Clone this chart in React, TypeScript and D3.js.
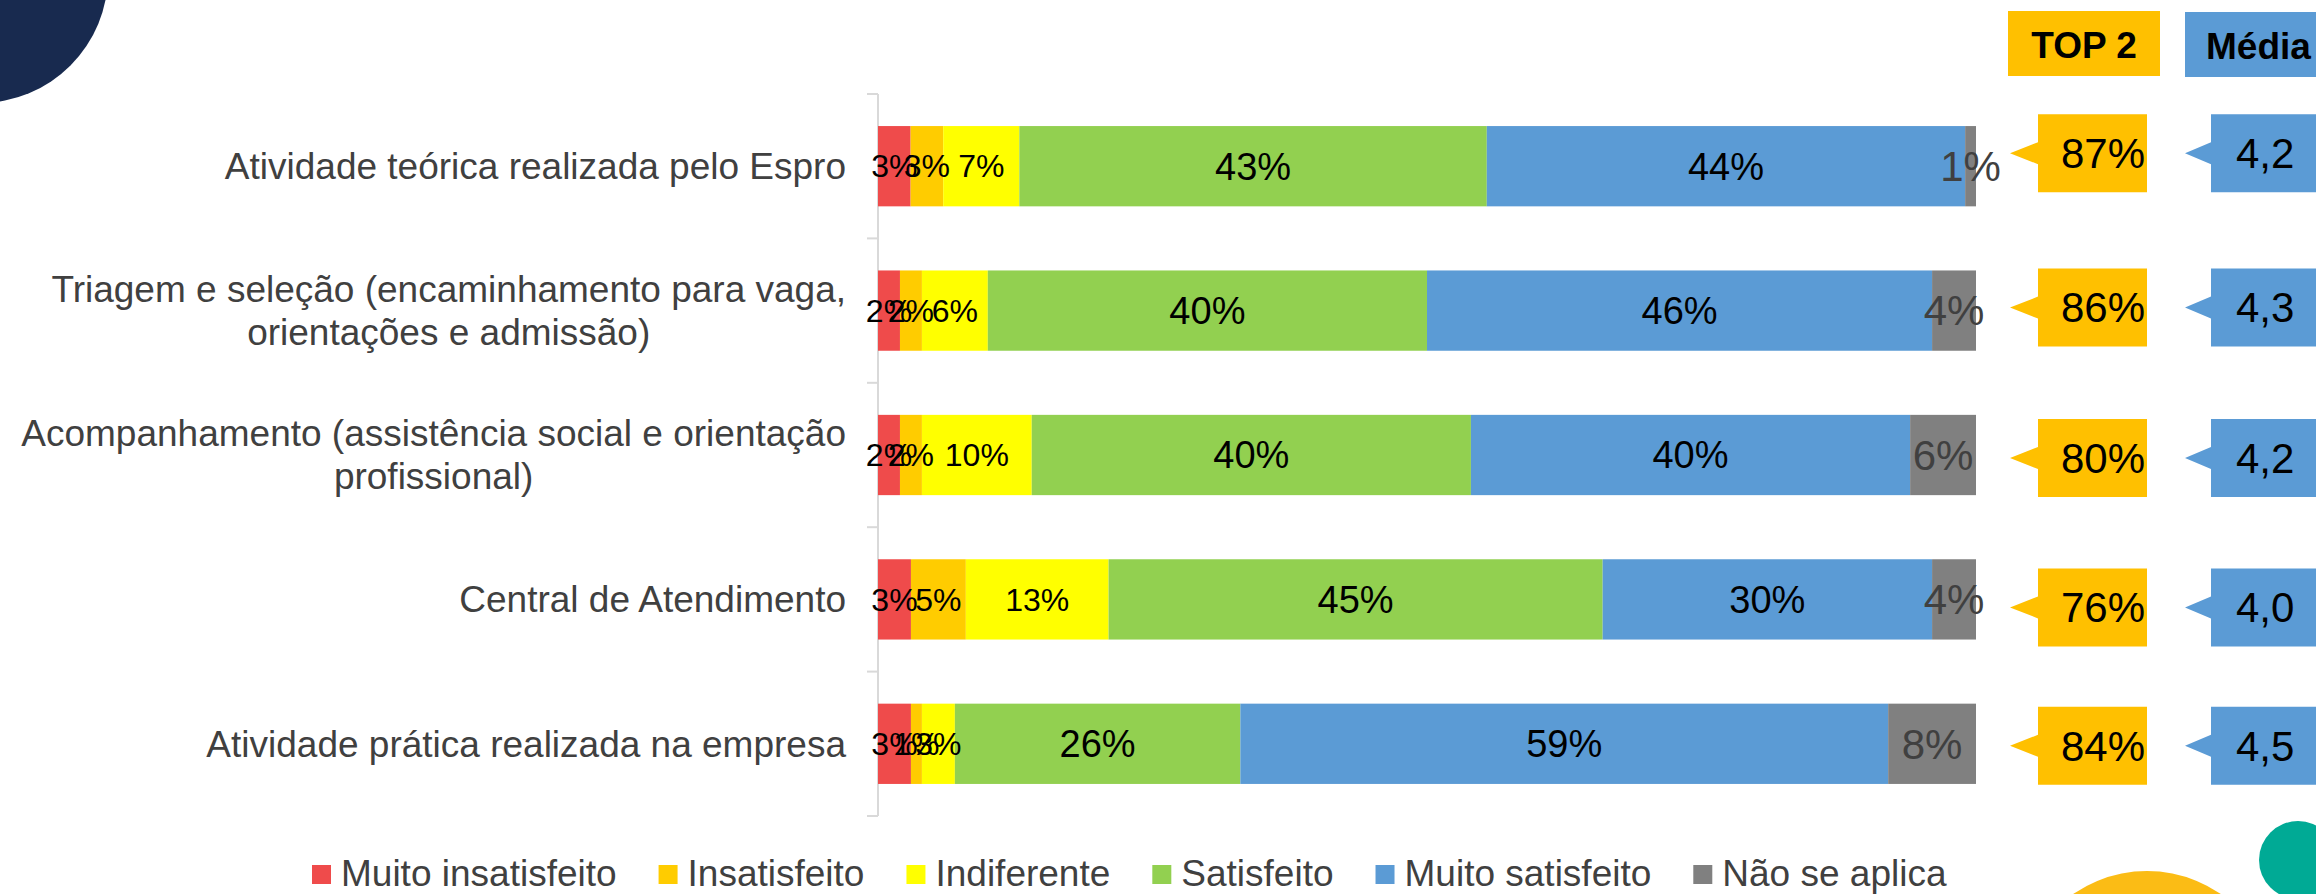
import React, { useEffect, useRef } from 'react';
import * as d3 from 'd3';

// Category labels (one entry per line)
const categories = [
  ['Atividade teórica realizada pelo Espro'],
  ['Triagem e seleção (encaminhamento para vaga,', 'orientações e admissão)'],
  ['Acompanhamento (assistência social e orientação', 'profissional)'],
  ['Central de Atendimento'],
  ['Atividade prática realizada na empresa'],
];

const seriesNames = [
  'Muito insatisfeito',
  'Insatisfeito',
  'Indiferente',
  'Satisfeito',
  'Muito satisfeito',
  'Não se aplica',
];

// Percentages per category
const muitoInsatisfeito = [3, 2, 2, 3, 3];
const insatisfeito = [3, 2, 2, 5, 1];
const indiferente = [7, 6, 10, 13, 3];
const satisfeito = [43, 40, 40, 45, 26];
const muitoSatisfeito = [44, 46, 40, 30, 59];
const naoSeAplica = [1, 4, 6, 4, 8];

// Side indicators
const top2 = [87, 86, 80, 76, 84];
const media = [4.2, 4.3, 4.2, 4.0, 4.5];

const colors = ['#EF4B4B', '#FFCC00', '#FFFF00', '#92D050', '#5B9BD5', '#808080'];

// the callouts in the original were placed by hand, slightly off the bar centres
const calloutNudge = [-13, -3, 3, 8, 2];

const App = () => {
  const ref = useRef<SVGSVGElement>(null);

  useEffect(() => {
    document.body.style.margin = '0';
    document.body.style.overflow = 'hidden';

    const svg = d3.select(ref.current);
    svg.selectAll('*').remove();
    const font = "'Liberation Sans', Arial, sans-serif";

    // background decorations
    svg.append('circle').attr('cx', -20).attr('cy', -25).attr('r', 128).attr('fill', '#182A4F');
    svg.append('circle').attr('cx', 2147).attr('cy', 1001).attr('r', 130).attr('fill', '#FBBC15');
    svg.append('circle').attr('cx', 2298).attr('cy', 860).attr('r', 39).attr('fill', '#00AA95');

    const series = [muitoInsatisfeito, insatisfeito, indiferente, satisfeito, muitoSatisfeito, naoSeAplica];
    const rows = categories.map((c, i) => {
      const row: any = { key: String(i) };
      seriesNames.forEach((s, j) => (row[s] = series[j][i]));
      return row;
    });

    const stack = d3.stack<any>().keys(seriesNames).offset(d3.stackOffsetExpand);
    const layers = stack(rows);

    const x = d3.scaleLinear().domain([0, 1]).range([878, 1976]);
    const y = d3
      .scaleBand()
      .domain(rows.map((r) => r.key))
      .range([94, 816])
      .paddingInner(0.444)
      .paddingOuter(0.222);
    const bw = y.bandwidth();

    // axis line with ticks between categories
    const axis = svg.append('g').attr('stroke', '#D9D9D9').attr('stroke-width', 2);
    axis.append('line').attr('x1', x(0)).attr('x2', x(0)).attr('y1', 94).attr('y2', 816);
    const bounds = d3.range(rows.length + 1).map((i) => 94 + i * y.step());
    axis
      .selectAll('.tick')
      .data(bounds)
      .enter()
      .append('line')
      .attr('x1', x(0) - 11)
      .attr('x2', x(0))
      .attr('y1', (d) => d)
      .attr('y2', (d) => d);

    // stacked bars
    const barG = svg.append('g');
    layers.forEach((layer, li) => {
      barG
        .selectAll(`.seg${li}`)
        .data(layer)
        .enter()
        .append('rect')
        .attr('x', (d) => x(d[0]))
        .attr('width', (d) => x(d[1]) - x(d[0]))
        .attr('y', (d) => y(d.data.key)!)
        .attr('height', bw)
        .attr('fill', colors[li]);
    });

    // segment labels
    const labelG = svg.append('g').style('font-family', font).attr('text-anchor', 'middle');
    layers.forEach((layer, li) => {
      const size = li < 3 ? 32 : li < 5 ? 38 : 42;
      labelG
        .selectAll(`.lab${li}`)
        .data(layer)
        .enter()
        .append('text')
        .attr('x', (d) => x((d[0] + d[1]) / 2))
        .attr('y', (d) => y(d.data.key)! + bw / 2)
        .attr('dy', '0.35em')
        .style('font-size', `${size}px`)
        .attr('fill', li === 5 ? '#404040' : '#000')
        .text((d) => `${d.data[seriesNames[li]]}%`);
    });

    // category labels (centered block, right edge near the axis)
    const catG = svg.append('g').style('font-family', font).attr('fill', '#404040').style('font-size', '37px');
    const lineH = 43;
    categories.forEach((lines, i) => {
      const cy = y(String(i))! + bw / 2;
      const g = catG.append('g');
      const texts = lines.map((ln, k) =>
        g
          .append('text')
          .attr('y', cy + (k - (lines.length - 1) / 2) * lineH)
          .attr('dy', '0.35em')
          .attr('text-anchor', 'middle')
          .text(ln)
      );
      const maxW = d3.max(texts, (t) => (t.node() as SVGTextElement).getComputedTextLength()) || 0;
      texts.forEach((t) => t.attr('x', 846 - maxW / 2));
    });

    // header boxes
    svg.append('rect').attr('x', 2008).attr('y', 11).attr('width', 152).attr('height', 65).attr('fill', '#FFC000');
    svg
      .append('text')
      .attr('x', 2084)
      .attr('y', 58)
      .attr('text-anchor', 'middle')
      .style('font-family', font)
      .style('font-size', '37px')
      .style('font-weight', 'bold')
      .text('TOP 2');
    svg.append('rect').attr('x', 2185).attr('y', 12).attr('width', 140).attr('height', 65).attr('fill', '#5B9BD5');
    svg
      .append('text')
      .attr('x', 2206)
      .attr('y', 59)
      .style('font-family', font)
      .style('font-size', '37px')
      .style('font-weight', 'bold')
      .text('Média');

    // callouts
    const callout = (tipX: number, boxX: number, boxR: number, cy: number) => {
      const h = 78;
      const top = cy - h / 2;
      const bot = cy + h / 2;
      return `M${tipX},${cy}L${boxX},${cy - 11}L${boxX},${top}L${boxR},${top}L${boxR},${bot}L${boxX},${bot}L${boxX},${cy + 11}Z`;
    };
    const fmt = (v: number) => v.toFixed(1).replace('.', ',');

    rows.forEach((r, i) => {
      const cy = y(r.key)! + bw / 2 + calloutNudge[i];
      svg.append('path').attr('d', callout(2010, 2038, 2147, cy)).attr('fill', '#FFC000');
      svg
        .append('text')
        .attr('x', 2145)
        .attr('y', cy)
        .attr('dy', '0.35em')
        .attr('text-anchor', 'end')
        .style('font-family', font)
        .style('font-size', '42px')
        .text(`${top2[i]}%`);
      svg.append('path').attr('d', callout(2185, 2211, 2330, cy)).attr('fill', '#5B9BD5');
      svg
        .append('text')
        .attr('x', 2236)
        .attr('y', cy)
        .attr('dy', '0.35em')
        .style('font-family', font)
        .style('font-size', '42px')
        .text(fmt(media[i]));
    });

    // legend
    const legend = svg.append('g').style('font-family', font).style('font-size', '37px');
    let lx = 312;
    seriesNames.forEach((name, i) => {
      legend.append('rect').attr('x', lx).attr('y', 865).attr('width', 19).attr('height', 19).attr('fill', colors[i]);
      const t = legend.append('text').attr('x', lx + 29).attr('y', 886).attr('fill', '#404040').text(name);
      const w = (t.node() as SVGTextElement).getComputedTextLength();
      lx += 29 + w + 42;
    });
  }, []);

  return <svg ref={ref} width={2316} height={894} style={{ display: 'block' }} />;
};

export default App;
